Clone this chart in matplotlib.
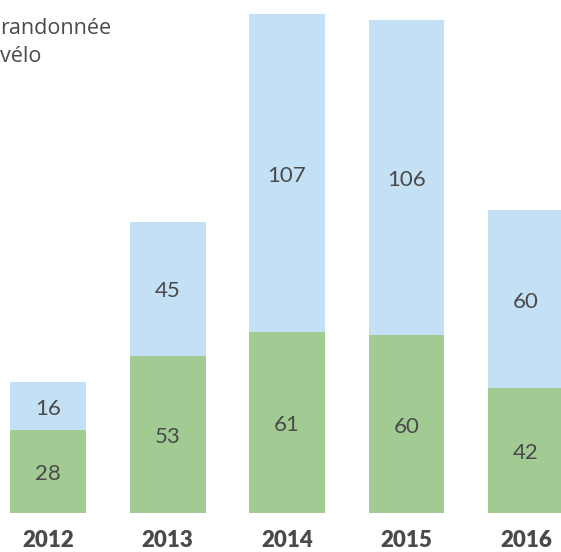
import matplotlib
matplotlib.use("Agg")
import matplotlib.pyplot as plt

# Data
years = ["2012", "2013", "2014", "2015", "2016"]
randonnee = [28, 53, 61, 60, 42]
velo = [16, 45, 107, 106, 60]

green = "#a1cb93"
blue = "#c4e0f5"
txt = "#4a4a4a"

plt.rcParams["font.family"] = ["Lato", "DejaVu Sans"]

fig = plt.figure(figsize=(5.61, 5.52), dpi=100)
ax = fig.add_axes([0, 0, 1, 1])

x = list(range(len(years)))
w = 0.636
ax.bar(x, randonnee, width=w, color=green)
ax.bar(x, velo, width=w, bottom=randonnee, color=blue)

for i in x:
    ax.text(i, randonnee[i] / 2 - 0.9, str(randonnee[i]), ha="center", va="center",
            fontsize=16, color=txt)
    ax.text(i, randonnee[i] + velo[i] / 2 - 0.9, str(velo[i]), ha="center", va="center",
            fontsize=16, color=txt)
    ax.text(i, -9.3, years[i], ha="center", va="center",
            fontsize=16, fontweight="heavy", color=txt)

ax.set_xlim(-0.402, 4.293)
ax.set_ylim(-13.1, 172.7)
ax.axis("off")

# legend text (cropped at left)
fig.text(0.0, 0.948, "randonnée", ha="left", va="center", fontsize=15.5,
         color=txt, family="Open Sans")
fig.text(0.0, 0.898, "vélo", ha="left", va="center", fontsize=15.5,
         color=txt, family="Open Sans")

fig.savefig("out.png", dpi=100)
